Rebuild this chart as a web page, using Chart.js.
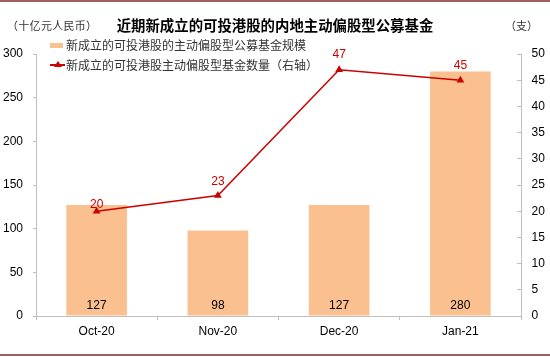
<!DOCTYPE html>
<html>
<head>
<meta charset="utf-8">
<script src="https://cdn.jsdelivr.net/npm/chart.js@4"></script>
<style>
  html, body { margin:0; padding:0; background:#fff; }
  #wrap { position:relative; width:550px; height:357px; overflow:hidden; }
  canvas { position:absolute; left:0; top:0; }
  .t { position:absolute; white-space:nowrap; font-family:"Noto Sans CJK SC", sans-serif; }
  .rule { position:absolute; left:0; width:550px; height:2px; background:#A0605E; }
</style>
</head>
<body>
<div id="wrap">
  <canvas id="c" width="550" height="357"></canvas>
  <div class="rule" style="top:0px;"></div>
  <div class="rule" style="top:354px;"></div>
  <div class="t" id="unitL" style="left:7px; top:16px; font-size:11px; line-height:18px; color:#333; letter-spacing:0.3px;"></div>
  <div class="t" id="title" style="left:0; width:550px; text-align:center; top:14px; font-size:14.4px; line-height:22px; font-weight:bold; color:#000;"></div>
  <div class="t" id="unitR" style="left:505px; top:16px; font-size:11px; line-height:18px; color:#333;"></div>
  <div style="position:absolute; left:50px; top:43px; width:13px; height:5px; background:#FAC090;"></div>
  <div class="t" id="leg1" style="left:66px; top:37px; font-size:12px; line-height:16px; color:#333;"></div>
  <div style="position:absolute; left:50px; top:64px; width:15px; height:1.5px; background:#CC0000;"></div>
  <div style="position:absolute; left:53.5px; top:61px; width:0; height:0; border-left:4px solid transparent; border-right:4px solid transparent; border-bottom:6px solid #CC0000;"></div>
  <div class="t" id="leg2" style="left:66px; top:57px; font-size:12px; line-height:16px; color:#333;"></div>
</div>
<script>
// ---- data ----
const categories = ['Oct-20', 'Nov-20', 'Dec-20', 'Jan-21'];
const fundSize = [127, 98, 127, 280];          // 十亿元人民币 (left axis)
const fundCount = [20, 23, 47, 45];            // 支 (right axis)
const leftAxisRange = [0, 300, 50];            // min, max, step
const rightAxisRange = [0, 50, 5];
const titleText = '近期新成立的可投港股的内地主动偏股型公募基金';
const unitLeft = '（十亿元人民币）';
const unitRight = '（支）';
const seriesNames = ['新成立的可投港股的主动偏股型公募基金规模', '新成立的可投港股主动偏股型基金数量（右轴）'];

document.getElementById('title').textContent = titleText;
document.getElementById('unitL').textContent = unitLeft;
document.getElementById('unitR').textContent = unitRight;
document.getElementById('leg1').textContent = seriesNames[0];
document.getElementById('leg2').textContent = seriesNames[1];

const axisFont = { family: '"Liberation Sans", Arial, sans-serif', size: 12 };
const axisColor = '#BFBFBF';
const red = '#CC0000';
const lineLabelLift = [6.5, 13.5, 15, 14.5];

const valueLabels = {
  id: 'valueLabels',
  afterDatasetsDraw(chart) {
    const ctx = chart.ctx;
    ctx.save();
    ctx.font = '12px "Liberation Sans", Arial, sans-serif';
    ctx.textAlign = 'center';
    ctx.textBaseline = 'middle';
    const barMeta = chart.getDatasetMeta(1);
    const yScale = chart.scales.y;
    ctx.fillStyle = '#000';
    barMeta.data.forEach((el, i) => {
      ctx.fillText(String(fundSize[i]), el.x, yScale.getPixelForValue(0) - 10);
    });
    const lineMeta = chart.getDatasetMeta(0);
    ctx.fillStyle = red;
    lineMeta.data.forEach((el, i) => {
      ctx.fillText(String(fundCount[i]), el.x, el.y - lineLabelLift[i]);
    });
    ctx.restore();
  }
};

new Chart(document.getElementById('c'), {
  type: 'bar',
  data: {
    labels: categories,
    datasets: [
      {
        type: 'line',
        label: seriesNames[1],
        data: fundCount,
        yAxisID: 'y1',
        order: 0,
        borderColor: red,
        backgroundColor: red,
        borderWidth: 1.5,
        pointStyle: 'triangle',
        pointRadius: 4.5,
        pointBackgroundColor: red,
        pointBorderColor: red,
        pointBorderWidth: 0,
        tension: 0
      },
      {
        type: 'bar',
        label: seriesNames[0],
        data: fundSize,
        yAxisID: 'y',
        order: 1,
        backgroundColor: '#FAC090',
        borderWidth: 0,
        categoryPercentage: 1,
        barPercentage: 0.5
      }
    ]
  },
  options: {
    responsive: false,
    devicePixelRatio: 1,
    animation: false,
    layout: { padding: { top: 54, left: 0, right: 0, bottom: 0 } },
    plugins: { legend: { display: false }, tooltip: { enabled: false }, title: { display: false } },
    scales: {
      x: {
        offset: true,
        grid: { display: true, drawOnChartArea: false, drawTicks: true, tickLength: 4, color: axisColor, offset: true },
        border: { display: true, color: axisColor },
        ticks: { font: axisFont, color: '#000', padding: 4, maxRotation: 0 },
        afterFit: s => { s.height = 41; }
      },
      y: {
        position: 'left',
        min: leftAxisRange[0], max: leftAxisRange[1],
        grid: { display: true, drawOnChartArea: false, drawTicks: true, tickLength: 3, color: axisColor },
        border: { display: true, color: axisColor },
        ticks: { stepSize: leftAxisRange[2], font: axisFont, color: '#000', padding: 10 },
        afterFit: s => { s.width = 36; }
      },
      y1: {
        position: 'right',
        min: rightAxisRange[0], max: rightAxisRange[1],
        grid: { display: true, drawOnChartArea: false, drawTicks: true, tickLength: -4, color: axisColor },
        border: { display: true, color: axisColor },
        ticks: { stepSize: rightAxisRange[2], font: axisFont, color: '#000', padding: 14.5 },
        afterFit: s => { s.width = 29; }
      }
    }
  },
  plugins: [valueLabels]
});
</script>
</body>
</html>
